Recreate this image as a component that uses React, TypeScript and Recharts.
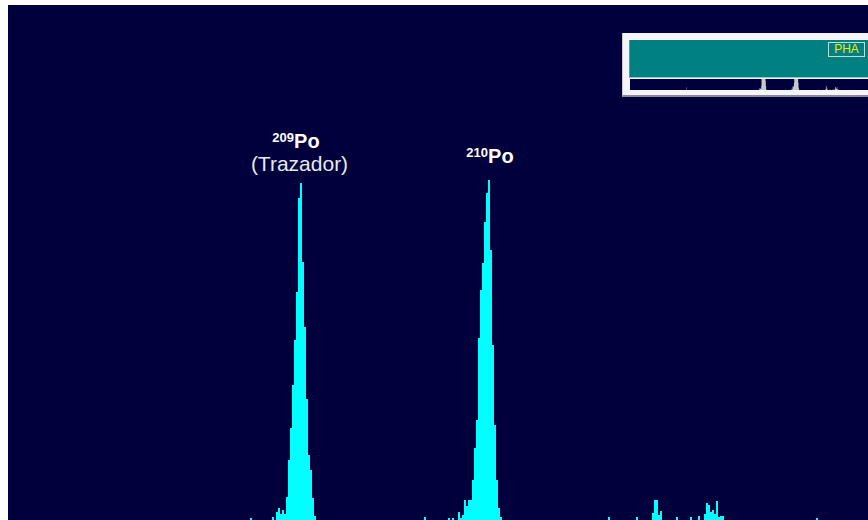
import { BarChart, Bar, XAxis, YAxis, ReferenceDot, AreaChart, Area } from 'recharts';

// MCA spectrum: 1024 channels, the main view shows channels 240-669
const totalChannels = 1024;
const windowStart = 240;
const windowEnd = 669;

// 209Po tracer peak, channels 374-393
const tracerStart = 374;
const tracerCounts = [8, 12, 6, 10, 6, 23, 60, 92, 135, 180, 228, 322, 337, 258, 193, 121, 65, 50, 22, 4];

// 210Po peak, channels 465-486
const po210Start = 465;
const po210Counts = [8, 2, 5, 20, 14, 20, 20, 40, 72, 100, 182, 230, 257, 298, 327, 340, 270, 175, 95, 40, 12, 3];

// scattered background counts as [channel, counts]
const background: [number, number][] = [
  [166, 15], [361, 2], [372, 3], [448, 3], [460, 2], [462, 2],
  [540, 3], [554, 3], [562, 7], [563, 20], [564, 20], [565, 5], [566, 9],
  [574, 3], [581, 3], [585, 4], [588, 6], [589, 17], [590, 15], [591, 8],
  [592, 10], [593, 6], [594, 19], [595, 3], [596, 4], [597, 4], [644, 2],
];

const tracerPeakChannel = 386;
const po210PeakChannel = 480;

const spectrum = Array.from({ length: totalChannels }, (_, ch) => ({ ch, counts: 0 }));
tracerCounts.forEach((c, i) => { spectrum[tracerStart + i].counts = c; });
po210Counts.forEach((c, i) => { spectrum[po210Start + i].counts = c; });
background.forEach(([ch, c]) => { spectrum[ch].counts = c; });

const windowData = spectrum.slice(windowStart, windowEnd + 1);

const NAVY = '#00003c';
const CYAN = '#00ffff';
const FONT = '"Liberation Sans", Arial, sans-serif';

function PeakTag(props: any) {
  const { cx, cy, mass, note, dxTop, dyTop, dxNote, dyNote } = props;
  return (
    <g fontFamily={FONT} fill="#ffffff">
      <text x={cx + dxTop} y={cy + dyTop} textAnchor="middle" fontWeight="bold">
        <tspan fontSize={13} dy={-6}>{mass}</tspan>
        <tspan fontSize={20} dy={6}>Po</tspan>
      </text>
      {note && (
        <text x={cx + dxNote} y={cy + dyNote} textAnchor="middle" fontSize={21} fill="#e8e8f0">
          {note}
        </text>
      )}
    </g>
  );
}

// channel bars drawn edge to edge without anti-aliased seams
function ChannelBar(props: any) {
  const { x, y, width, height, fill } = props;
  if (!height || height <= 0) return null;
  return <rect x={x} y={y} width={width} height={height} fill={fill} shapeRendering="crispEdges" />;
}

export default function App() {
  return (
    <div style={{ position: 'absolute', left: 8, top: 5, width: 860, height: 515, overflow: 'hidden', background: NAVY }}>
      <BarChart
        width={860}
        height={515}
        data={windowData}
        margin={{ top: 0, right: 0, left: 0, bottom: 0 }}
        barCategoryGap={0}
        barGap={0}
      >
        <XAxis dataKey="ch" hide />
        <YAxis type="number" domain={[0, 515]} hide />
        <Bar dataKey="counts" fill={CYAN} barSize={2} shape={ChannelBar} isAnimationActive={false} />
        <ReferenceDot
          x={tracerPeakChannel}
          y={337}
          r={0}
          shape={(p: any) => (
            <PeakTag cx={p.cx} cy={p.cy} mass="209" note="(Trazador)" dxTop={-5} dyTop={-35} dxNote={-1.5} dyNote={-12.5} />
          )}
        />
        <ReferenceDot
          x={po210PeakChannel}
          y={340}
          r={0}
          shape={(p: any) => (
            <PeakTag cx={p.cx} cy={p.cy} mass="210" dxTop={1} dyTop={-17} />
          )}
        />
      </BarChart>

      {/* overview of the full spectrum */}
      <div
        style={{
          position: 'absolute', left: 614, top: 28, width: 260, height: 62,
          background: '#f4f4fa', borderLeft: '1px solid #c8c8d0', borderBottom: '2px solid #8a8a94',
        }}
      >
        <div
          style={{
            position: 'absolute', left: 6, top: 7, width: 260, height: 37,
            background: '#008080', borderBottom: '1px solid #8cc8c8', borderLeft: '1px solid #4aa0a0',
          }}
        >
          <div
            style={{
              position: 'absolute', left: 198, top: 2, width: 35, height: 13,
              border: '1px solid #b8e0d8', color: '#e8f000', fontFamily: FONT, fontSize: 12,
              lineHeight: '13px', textAlign: 'center',
            }}
          >
            PHA
          </div>
        </div>
        <div style={{ position: 'absolute', left: 7, top: 46, width: 260, height: 11, background: NAVY, overflow: 'hidden' }}>
          <div style={{ position: 'absolute', left: -2, top: 0 }}>
            <AreaChart width={360} height={11} data={spectrum} margin={{ top: 0, right: 0, left: 0, bottom: 0 }}>
              <XAxis dataKey="ch" type="number" domain={[0, totalChannels - 1]} hide />
              <YAxis type="number" domain={[0, 60]} allowDataOverflow hide />
              <Area type="step" dataKey="counts" stroke="none" fill="#c8c8c8" fillOpacity={1} isAnimationActive={false} />
            </AreaChart>
          </div>
        </div>
      </div>
    </div>
  );
}
